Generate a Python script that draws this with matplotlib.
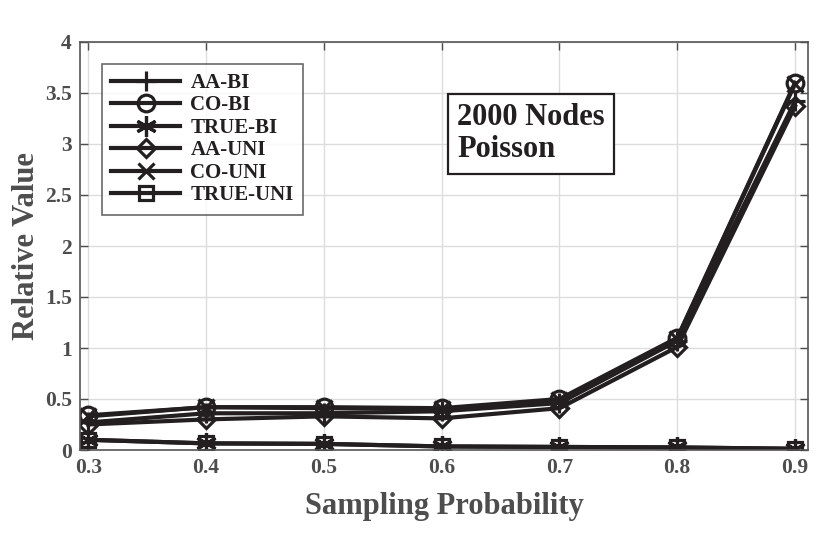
import matplotlib
matplotlib.use("Agg")
import matplotlib.pyplot as plt

prob = [0.3, 0.4, 0.5, 0.6, 0.7, 0.8, 0.9]
aa_bi = [0.27, 0.36, 0.36, 0.38, 0.46, 1.07, 3.42]
co_bi = [0.34, 0.42, 0.42, 0.41, 0.50, 1.10, 3.60]
true_bi = [0.10, 0.065, 0.06, 0.035, 0.03, 0.025, 0.012]
aa_uni = [0.25, 0.30, 0.33, 0.31, 0.41, 1.01, 3.37]
co_uni = [0.33, 0.42, 0.41, 0.40, 0.49, 1.09, 3.59]
true_uni = [0.10, 0.065, 0.06, 0.035, 0.03, 0.025, 0.012]

names = ["AA-BI", "CO-BI", "TRUE-BI", "AA-UNI", "CO-UNI", "TRUE-UNI"]
series = [aa_bi, co_bi, true_bi, aa_uni, co_uni, true_uni]
markers = ["+", "o", (6, 2, 0), "D", "x", "s"]
msizes = [14, 12, 15, 9, 12, 10]

xticks = [0.3, 0.4, 0.5, 0.6, 0.7, 0.8, 0.9]
yticks = [0, 0.5, 1, 1.5, 2, 2.5, 3, 3.5, 4]
ytick_labels = ["0", "0.5", "1", "1.5", "2", "2.5", "3", "3.5", "4"]

plt.rcParams['font.family'] = ['Liberation Serif', 'DejaVu Serif']
plt.rcParams['font.weight'] = 'bold'

line_col = '#231f20'
gray = '#4d4d4d'

fig = plt.figure(figsize=(8.3, 5.35), dpi=100)
ax = fig.add_axes([80/830, 85/535, 728/830, 408/535])

for name, vals, m, ms in zip(names, series, markers, msizes):
    ax.plot(prob, vals, color=line_col, linewidth=3.0, label=name,
            marker=m, markersize=ms, markerfacecolor='none',
            markeredgecolor=line_col, markeredgewidth=2.3)

ax.set_xlim(0.293, 0.911)
ax.set_ylim(0, 4)
ax.set_xticks(xticks)
ax.set_xticklabels([f"{v:.1f}" for v in xticks])
ax.set_yticks(yticks)
ax.set_yticklabels(ytick_labels)
ax.grid(True, color='#dddddd', linewidth=1.0)
ax.set_axisbelow(True)
ax.tick_params(direction='in', length=6, width=1, colors=gray, labelsize=15.5,
               top=True, right=True, pad=6)
for sp in ax.spines.values():
    sp.set_color('#555555')
    sp.set_linewidth(1.2)
for lab in ax.get_xticklabels() + ax.get_yticklabels():
    lab.set_fontweight('bold')
    lab.set_color(gray)

ax.set_xlabel("Sampling Probability", fontsize=22, fontweight='bold', color=gray, labelpad=10)
ax.set_ylabel("Relative Value", fontsize=22, fontweight='bold', color=gray, labelpad=3)

leg = ax.legend(loc='upper left', bbox_to_anchor=(0.03, 0.947), frameon=True,
                fancybox=False, edgecolor='#444444', fontsize=15,
                handlelength=3.3, handletextpad=0.5, labelspacing=0.12,
                borderpad=0.45, borderaxespad=0)
leg.get_frame().set_linewidth(1.2)
for t in leg.get_texts():
    t.set_fontweight('bold')
    t.set_color(line_col)

ax.text(0.518, 0.775, "2000 Nodes\nPoisson", transform=ax.transAxes,
        fontsize=22, fontweight='bold', color=line_col, ha='left', va='center',
        linespacing=1.15,
        bbox=dict(boxstyle='square,pad=0.3', facecolor='white', edgecolor=line_col, linewidth=1.6))

fig.savefig("out.png", dpi=100, facecolor='white')
